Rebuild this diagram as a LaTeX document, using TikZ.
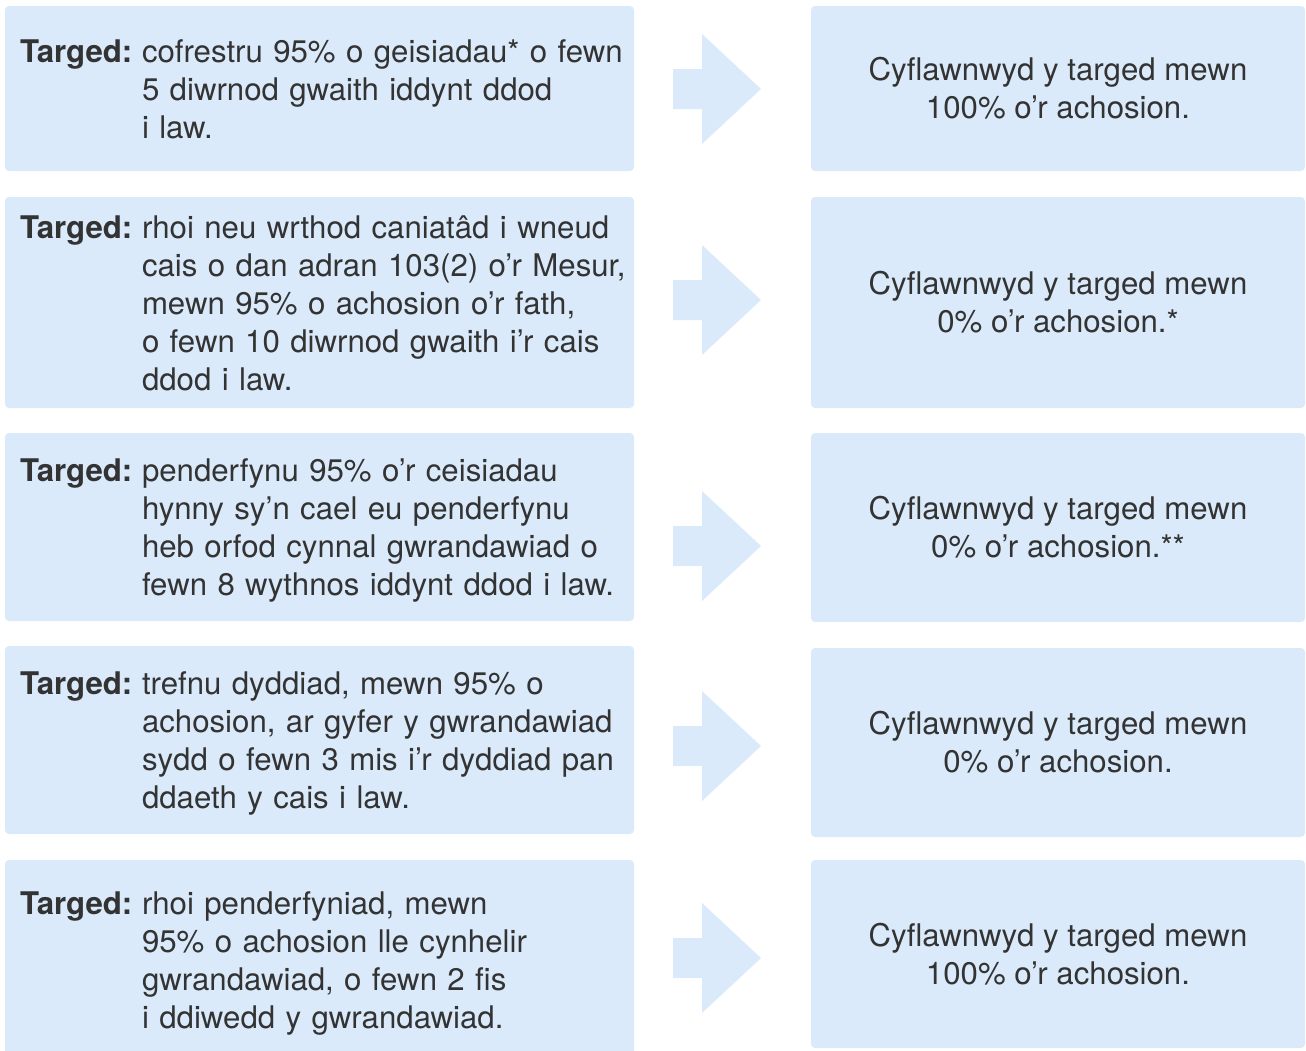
\documentclass[tikz,border=0pt]{standalone}
\usepackage{fontspec}
\setmainfont{TeX Gyre Heros}
\definecolor{pnlblue}{HTML}{DAEAFA}
\definecolor{pnltext}{HTML}{333333}
\newcommand{\tgtlabel}{\makebox[61pt][l]{\textbf{Targed:}}}
\newcommand{\tgtlines}[1]{\raisebox{-2pt}[\height][\depth]{%
  \begin{tabular}{@{}l@{}l@{}}#1\end{tabular}}}

\begin{document}
\begin{tikzpicture}[x=0.5pt,y=-0.5pt,
    tgtbox/.style={fill=pnlblue,rounded corners=2pt,minimum width=314.5pt,
      inner xsep=7.5pt,text width=299.5pt,align=left,text=pnltext,
      font=\fontsize{15.6}{19}\selectfont},
    resbox/.style={fill=pnlblue,rounded corners=2pt,minimum width=247pt,
      align=center,text=pnltext,font=\fontsize{15.6}{19}\selectfont},
    flowarrow/.style={fill=pnlblue}]
  \useasboundingbox (0,0) rectangle (1306,1050);

  % Targets (left column)
  \node[tgtbox,minimum height=82.5pt] (tgt1) at (319.5,88.5)
    {\tgtlines{\tgtlabel & cofrestru 95\% o geisiadau* o fewn\\
      & 5 diwrnod gwaith iddynt ddod\\
      & i law.}};
  \node[tgtbox,minimum height=105.5pt] (tgt2) at (319.5,302.5)
    {\tgtlines{\tgtlabel & rhoi neu wrthod caniatâd i wneud\\
      & cais o dan adran 103(2) o’r Mesur,\\
      & mewn 95\% o achosion o’r fath,\\
      & o fewn 10 diwrnod gwaith i’r cais\\
      & ddod i law.}};
  \node[tgtbox,minimum height=94pt] (tgt3) at (319.5,527)
    {\tgtlines{\tgtlabel & penderfynu 95\% o’r ceisiadau\\
      & hynny sy’n cael eu penderfynu\\
      & heb orfod cynnal gwrandawiad o\\
      & fewn 8 wythnos iddynt ddod i law.}};
  \node[tgtbox,minimum height=94pt] (tgt4) at (319.5,740)
    {\tgtlines{\tgtlabel & trefnu dyddiad, mewn 95\% o\\
      & achosion, ar gyfer y gwrandawiad\\
      & sydd o fewn 3 mis i’r dyddiad pan\\
      & ddaeth y cais i law.}};
  \node[tgtbox,minimum height=100pt] (tgt5) at (319.5,960)
    {\tgtlines{\tgtlabel & rhoi penderfyniad, mewn\\
      & 95\% o achosion lle cynhelir\\
      & gwrandawiad, o fewn 2 fis\\
      & i ddiwedd y gwrandawiad.}};

  % Results (right column)
  \node[resbox,minimum height=82.5pt] (res1) at (1058,88.5)
    {Cyflawnwyd y targed mewn\\100\% o’r achosion.};
  \node[resbox,minimum height=105.5pt] (res2) at (1058,302.5)
    {Cyflawnwyd y targed mewn\\0\% o’r achosion.*};
  \node[resbox,minimum height=94.5pt] (res3) at (1058,527.5)
    {Cyflawnwyd y targed mewn\\0\% o’r achosion.**};
  \node[resbox,minimum height=94.5pt] (res4) at (1058,742.5)
    {Cyflawnwyd y targed mewn\\0\% o’r achosion.};
  \node[resbox,minimum height=94pt] (res5) at (1058,954)
    {Cyflawnwyd y targed mewn\\100\% o’r achosion.};

  % Block arrows between the columns
  \fill[flowarrow] (673,69) -- ++(29,0) -- ++(0,-35) -- ++(59,55)
    -- ++(-59,55) -- ++(0,-35) -- ++(-29,0) -- cycle;
  \fill[flowarrow] (673,280) -- ++(29,0) -- ++(0,-35) -- ++(59,55)
    -- ++(-59,55) -- ++(0,-35) -- ++(-29,0) -- cycle;
  \fill[flowarrow] (673,526) -- ++(29,0) -- ++(0,-35) -- ++(59,55)
    -- ++(-59,55) -- ++(0,-35) -- ++(-29,0) -- cycle;
  \fill[flowarrow] (673,726) -- ++(29,0) -- ++(0,-35) -- ++(59,55)
    -- ++(-59,55) -- ++(0,-35) -- ++(-29,0) -- cycle;
  \fill[flowarrow] (673,938) -- ++(29,0) -- ++(0,-35) -- ++(59,55)
    -- ++(-59,55) -- ++(0,-35) -- ++(-29,0) -- cycle;
\end{tikzpicture}
\end{document}
